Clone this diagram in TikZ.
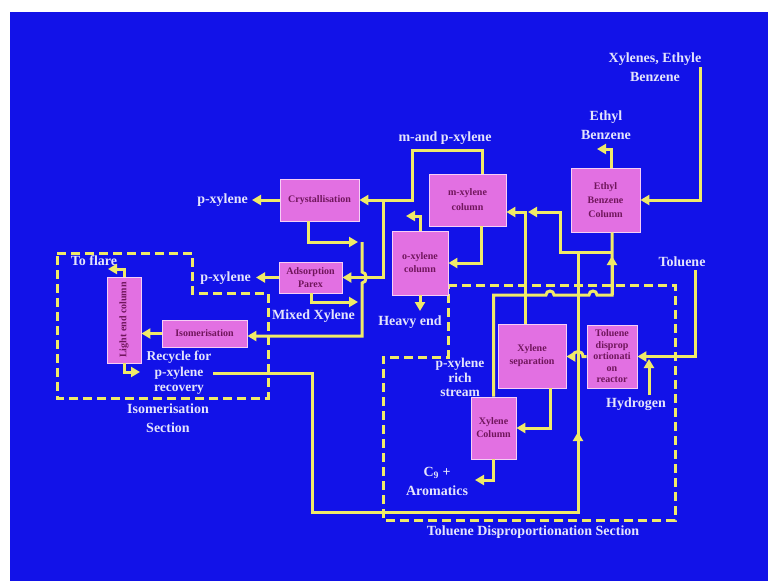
\documentclass[tikz,border=0pt]{standalone}
\usepackage{fontspec}
\setmainfont{Liberation Serif}
\usetikzlibrary{arrows.meta}

\definecolor{slideblue}{RGB}{18,18,232}
\definecolor{unitpink}{RGB}{226,112,226}
\definecolor{unitedge}{RGB}{246,206,246}
\definecolor{unitink}{RGB}{112,22,92}
\definecolor{pipeyellow}{RGB}{240,234,104}
\definecolor{tagink}{RGB}{228,228,252}

\tikzstyle{unit}=[draw=unitedge, fill=unitpink, line width=0.8pt, text=unitink, align=center, inner sep=1pt, font={\bfseries\fontsize{10}{13}\selectfont}]
\tikzstyle{tag}=[text=tagink, align=center, inner sep=0pt, font={\bfseries\fontsize{14}{19}\selectfont}]
\tikzstyle{smalltag}=[tag, font={\bfseries\fontsize{13.5}{15.5}\selectfont}]
\tikzstyle{pipe}=[draw=pipeyellow, line width=3pt]
\tikzstyle{feed}=[pipe, -{Triangle[length=9pt,width=10pt]}]
\tikzstyle{section}=[draw=pipeyellow, line width=3pt, dash pattern=on 9pt off 5pt]

\begin{document}
\begin{tikzpicture}[x=1pt, y=-1pt]
\useasboundingbox (0,0) rectangle (768,581);
\fill[white] (0,0) rectangle (768,581);
\fill[slideblue] (10,12) rectangle (768,581);

% sections
\draw[section] (57,253) -- (192,253) -- (192,293) -- (268,293) -- (268,398) -- (57,398) -- cycle;
\draw[section] (448,285) -- (675,285) -- (675,520) -- (383,520) -- (383,357) -- (448,357) -- cycle;

% units
\node[unit, minimum width=79pt, minimum height=42pt] (cryst) at (319.5,200) {Crystallisation};
\node[unit, minimum width=63pt, minimum height=31pt] (adsorb) at (310.5,277.5) {Adsorption\\Parex};
\node[unit, minimum width=77pt, minimum height=52pt, font={\bfseries\fontsize{10}{15}\selectfont}] (mxcol) at (467.5,200) {m-xylene\\column};
\node[unit, minimum width=56pt, minimum height=64pt] (oxcol) at (420,263) {o-xylene\\column};
\node[unit, minimum width=69pt, minimum height=64pt, font={\bfseries\fontsize{10}{14}\selectfont}] (ebcol) at (605.5,200) {Ethyl\\Benzene\\Column};
\node[unit, minimum width=34pt, minimum height=86pt] (lightend) at (124,320) {\rotatebox{90}{Light end column}};
\node[unit, minimum width=85pt, minimum height=27pt] (isom) at (204.5,333.5) {Isomerisation};
\node[unit, minimum width=68pt, minimum height=64pt] (xsep) at (532,356) {Xylene\\separation};
\node[unit, minimum width=45pt, minimum height=62pt] (xcol) at (493.5,428) {Xylene\\Column};
\node[unit, minimum width=50pt, minimum height=63pt, font={\bfseries\fontsize{10}{11.5}\selectfont}] (tdpr) at (612,356.5) {Toluene\\disprop\\ortionati\\on\\reactor};

% labels
\node[tag] (xefeedtag) at (655,67.5) {Xylenes, Ethyle\\Benzene};
\node[tag] (ebtag) at (606,125.5) {Ethyl\\Benzene};
\node[tag] (mptag) at (445,138) {m-and p-xylene};
\node[tag, anchor=east] (px1tag) at (248,200) {p-xylene};
\node[tag, anchor=east] (px2tag) at (251,278) {p-xylene};
\node[tag] (mixtag) at (313.5,316) {Mixed Xylene};
\node[tag] (flaretag) at (94,261) {To flare};
\node[tag] (heavytag) at (410,322) {Heavy end};
\node[smalltag] (recytag) at (179,373) {Recycle for\\p-xylene\\recovery};
\node[tag] (isotag) at (168,418.5) {Isomerisation\\Section};
\node[smalltag, font={\bfseries\fontsize{13.5}{14.5}\selectfont}] (richtag) at (460,377.5) {p-xylene\\rich\\stream};
\node[tag] (c9tag) at (437,481.5) {C\textsubscript{9} +\\Aromatics};
\node[tag] (tdstag) at (533,532) {Toluene Disproportionation Section};
\node[tag] (toltag) at (682,262) {Toluene};
\node[tag] (h2tag) at (636,404) {Hydrogen};

% streams
\coordinate (xefeed) at (700,67);
\coordinate (ebout) at (597,149);
\coordinate (ebfoot) at ([xshift=6.5pt]ebcol.south);
\coordinate (ebjoin) at (612,252);
\coordinate (pxjoin) at (612,295);
\coordinate (recycle) at (213,373);
\coordinate (tolin) at (695,270);
\coordinate (h2in) at (649,395);
\coordinate (c9out) at (475,480);
\coordinate (adsfeed) at (383,200);
\coordinate (oxout) at (406,216);
\coordinate (heavy) at (420,311);
\coordinate (px1out) at (252,200);
\coordinate (px2out) at (256,277.5);
\coordinate (mlq) at (362,242);
\coordinate (flare) at (108,269);

\draw[feed] (xefeed) |- (ebcol.east);
\draw[feed] ([xshift=6pt]ebcol.north) |- (ebout);
\draw[pipe] (xcol.north) |- (546,295) .. controls (546,289.7) and (554,289.7) .. (554,295)
  -- (589,295) .. controls (589,289.7) and (597,289.7) .. (597,295) -- (pxjoin) -- (ebfoot);
\draw[feed] (pxjoin) -- (612,256);
\draw[feed] (ebjoin) -- (560,252) -- (560,212) -- (528,212);
\draw[feed] ([xshift=-7pt]xsep.north) |- ([yshift=-12pt]mxcol.east);
\draw[pipe] (recycle) -- (312,373) -- (312,512) -- (578,512) -- (578,252);
\draw[feed] (578,470) -- (578,432);
\draw[feed] (tdpr.west) -- (583,356.5) .. controls (583,349.8) and (573,349.8) .. (573,356.5) -- (xsep.east |- tdpr.west);
\draw[feed] (tolin) |- (tdpr.east);
\draw[feed] (h2in) -- (649,359);
\draw[feed] ([xshift=18pt]xsep.south) |- (xcol.east);
\draw[feed] (xcol.south) |- (c9out);
\draw[feed] ([xshift=14.5pt]mxcol.north) |- (412,150) |- (cryst.east);
\draw[feed] (adsfeed) |- (adsorb.east);
\draw[feed] ([xshift=13.5pt]mxcol.south) |- (oxcol.east);
\draw[feed] (oxcol.north) |- (oxout);
\draw[feed] (oxcol.south) -- (heavy);
\draw[feed] (cryst.west) -- (px1out);
\draw[feed] (adsorb.west) -- (px2out);
\draw[feed] ([xshift=-11.5pt]cryst.south) |- ([xshift=-4pt]mlq);
\draw[feed] (mlq) -- (362,272) .. controls (367.5,272) and (367.5,283) .. (362,283) |- ([yshift=-2.5pt]isom.east);
\draw[feed] ([xshift=0.5pt]adsorb.south) |- (358,302);
\draw[feed] (isom.west) -- (isom.west -| lightend.east);
\draw[feed] (lightend.north) |- (flare);
\draw[feed] (lightend.south) |- (140,372);
\end{tikzpicture}
\end{document}
